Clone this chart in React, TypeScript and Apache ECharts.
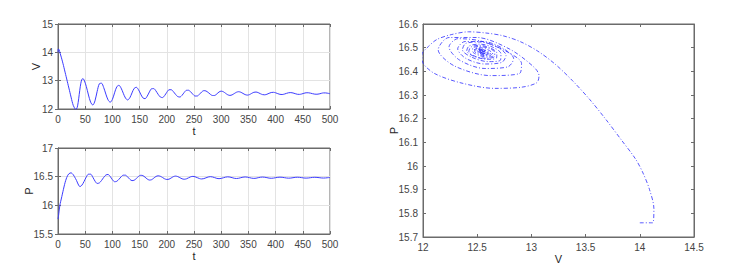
import React, { useEffect, useRef } from "react";
import * as echarts from "echarts";

// time samples (t)
const tVals = [
  0, 0.5, 1, 2, 3, 4, 6, 8, 10, 12, 14, 16, 18, 20, 22, 24, 26, 28, 30, 32, 34, 36, 38, 40, 42, 44, 46,
  48, 52, 56, 60, 64, 68, 72, 76, 80, 84,
  88, 92, 96, 100, 104, 108, 112, 116, 120, 124,
  128, 132, 136, 140, 144, 148, 152, 156, 160, 164,
  168, 172, 176, 180, 184, 188, 192, 196, 200, 204,
  208, 212, 216, 220, 224, 228, 232, 236, 240, 244,
  248, 252, 256, 260, 264, 268, 272, 276, 280, 284,
  288, 292, 296, 300, 304, 308, 312, 316, 320, 324,
  328, 332, 336, 340, 344, 348, 352, 356, 360, 364,
  368, 372, 376, 380, 384, 388, 392, 396, 400, 404,
  408, 412, 416, 420, 424, 428, 432, 436, 440, 444,
  448, 452, 456, 460, 464, 468, 472, 476, 480, 484,
  488, 492, 496, 500,
];

// V(t)
const vVals = [
  14.0, 14.12, 14.13, 14.09, 14.03, 13.96, 13.83, 13.69, 13.54, 13.38, 13.22, 13.06, 12.9, 12.74, 12.58, 12.42, 12.26, 12.13, 12.05, 11.99, 12.0, 12.11, 12.36, 12.66, 12.91, 13.05, 13.07,
  13.023, 12.799, 12.495, 12.24, 12.14, 12.289, 12.623, 12.891, 12.909, 12.757,
  12.525, 12.321, 12.24, 12.339, 12.571, 12.783, 12.836, 12.737, 12.556, 12.388,
  12.32, 12.394, 12.568, 12.727, 12.766, 12.679, 12.525, 12.394, 12.364, 12.453,
  12.602, 12.714, 12.719, 12.639, 12.52, 12.425, 12.403, 12.473, 12.59, 12.678,
  12.681, 12.615, 12.518, 12.44, 12.423, 12.483, 12.584, 12.659, 12.662, 12.602,
  12.518, 12.458, 12.459, 12.519, 12.6, 12.648, 12.636, 12.585, 12.52, 12.476,
  12.478, 12.532, 12.6, 12.63, 12.608, 12.555, 12.502, 12.48, 12.499, 12.545,
  12.591, 12.61, 12.592, 12.55, 12.508, 12.49, 12.508, 12.551, 12.589, 12.599,
  12.578, 12.54, 12.508, 12.501, 12.52, 12.554, 12.582, 12.589, 12.572, 12.542,
  12.517, 12.511, 12.526, 12.552, 12.574, 12.579, 12.566, 12.541, 12.52, 12.516,
  12.53, 12.554, 12.572, 12.573, 12.56, 12.54, 12.524, 12.521, 12.532, 12.553,
  12.568, 12.568, 12.556, 12.54,
];

// P(t)
const pVals = [
  15.76, 15.76, 15.82, 15.9, 15.97, 16.03, 16.11, 16.195, 16.28, 16.36, 16.43, 16.485, 16.525, 16.55, 16.562, 16.567, 16.555, 16.535, 16.505, 16.47, 16.435, 16.39, 16.35, 16.328, 16.333, 16.352, 16.382,
  16.418, 16.494, 16.543, 16.543, 16.491, 16.423, 16.382, 16.391, 16.433, 16.487,
  16.529, 16.538, 16.503, 16.447, 16.412, 16.419, 16.454, 16.497, 16.526, 16.526,
  16.495, 16.455, 16.431, 16.438, 16.468, 16.504, 16.524, 16.518, 16.491, 16.459,
  16.441, 16.447, 16.474, 16.503, 16.515, 16.507, 16.486, 16.463, 16.451, 16.456,
  16.477, 16.5, 16.51, 16.502, 16.483, 16.463, 16.455, 16.462, 16.48, 16.498,
  16.505, 16.498, 16.483, 16.467, 16.46, 16.466, 16.48, 16.494, 16.5, 16.495,
  16.483, 16.47, 16.465, 16.47, 16.481, 16.492, 16.497, 16.493, 16.483, 16.472,
  16.468, 16.472, 16.482, 16.491, 16.495, 16.491, 16.483, 16.474, 16.47, 16.473,
  16.482, 16.49, 16.493, 16.49, 16.483, 16.475, 16.472, 16.475, 16.482, 16.488,
  16.491, 16.489, 16.483, 16.477, 16.474, 16.476, 16.482, 16.488, 16.49, 16.488,
  16.483, 16.477, 16.475, 16.477, 16.482, 16.487, 16.489, 16.487, 16.483, 16.478,
  16.476, 16.478, 16.482, 16.486,
];

// axis ranges / ticks
const tAxis = { min: 0, max: 500, interval: 50 };
const vAxisTop = { min: 12, max: 15, interval: 1 };
const pAxisBottom = { min: 15.5, max: 17, interval: 0.5 };
const vAxisPhase = { min: 12, max: 14.5, interval: 0.5 };
const pAxisPhase = { min: 15.7, max: 16.6, interval: 0.1 };

const FONT = "'Liberation Sans', Arial, Helvetica, sans-serif";
const AXIS_COLOR = "#6b6b6b";
const LABEL_COLOR = "#444444";
const LINE_COLOR = "#3c3cff";

function mainAxis(gridIndex: number, range: any, name: string, nameGap: number, grid: boolean) {
  return {
    type: "value",
    gridIndex,
    ...range,
    name,
    nameLocation: "middle",
    nameGap,
    nameMoveOverlap: false,
    nameTextStyle: { fontFamily: FONT, fontSize: 11, color: "#262626" },
    axisLine: { show: true, lineStyle: { color: AXIS_COLOR, width: 1 } },
    axisTick: { show: true, inside: true, length: 3, lineStyle: { color: AXIS_COLOR } },
    axisLabel: { fontFamily: FONT, fontSize: 10, color: LABEL_COLOR, margin: 5 },
    splitLine: { show: grid, lineStyle: { color: "#e3e3e3", width: 1 } },
  };
}

function mirrorAxis(gridIndex: number, range: any, position: string) {
  return {
    type: "value",
    gridIndex,
    ...range,
    position,
    axisLine: { show: true, lineStyle: { color: AXIS_COLOR, width: 1 } },
    axisTick: { show: true, inside: true, length: 3, lineStyle: { color: AXIS_COLOR } },
    axisLabel: { show: false },
    splitLine: { show: false },
  };
}

export default function App() {
  const ref = useRef<HTMLDivElement>(null);
  useEffect(() => {
    if (!ref.current) return;
    const chart = echarts.init(ref.current, undefined, { renderer: "svg" });
    const gridStyle = { show: true, borderColor: AXIS_COLOR, borderWidth: 1, backgroundColor: "#ffffff" };
    const option: any = {
      animation: false,
      backgroundColor: "#ffffff",
      grid: [
        { left: 58, top: 24, width: 272, height: 85, ...gridStyle },
        { left: 58, top: 148, width: 272, height: 86, ...gridStyle },
        { left: 423, top: 24, width: 271, height: 213, ...gridStyle },
      ],
      xAxis: [
        mainAxis(0, tAxis, "t", 16, true),
        mainAxis(1, tAxis, "t", 16, true),
        mainAxis(2, vAxisPhase, "V", 16, false),
        mirrorAxis(0, tAxis, "top"),
        mirrorAxis(1, tAxis, "top"),
        mirrorAxis(2, vAxisPhase, "top"),
      ],
      yAxis: [
        mainAxis(0, vAxisTop, "V", 17, true),
        mainAxis(1, pAxisBottom, "P", 24, true),
        mainAxis(2, pAxisPhase, "P", 24, false),
        mirrorAxis(0, vAxisTop, "right"),
        mirrorAxis(1, pAxisBottom, "right"),
        mirrorAxis(2, pAxisPhase, "right"),
      ],
      series: [
        {
          type: "line",
          xAxisIndex: 0,
          yAxisIndex: 0,
          data: tVals.map((t, i) => [t, vVals[i]]),
          showSymbol: false,
          smooth: 0.3,
          clip: true,
          lineStyle: { color: LINE_COLOR, width: 1 },
        },
        {
          type: "line",
          xAxisIndex: 1,
          yAxisIndex: 1,
          data: tVals.map((t, i) => [t, pVals[i]]),
          showSymbol: false,
          smooth: 0.3,
          clip: true,
          lineStyle: { color: LINE_COLOR, width: 1 },
        },
        {
          type: "line",
          xAxisIndex: 2,
          yAxisIndex: 2,
          data: vVals.map((v, i) => [v, pVals[i]]),
          showSymbol: false,
          smooth: 0.3,
          clip: true,
          lineStyle: { color: "#2f2fff", width: 0.8, type: [4, 2, 1, 2] },
        },
      ],
    };
    chart.setOption(option);
    return () => chart.dispose();
  }, []);
  return (
    <div
      ref={ref}
      style={{ position: "fixed", left: 0, top: 0, width: 753, height: 273, background: "#fff" }}
    />
  );
}
